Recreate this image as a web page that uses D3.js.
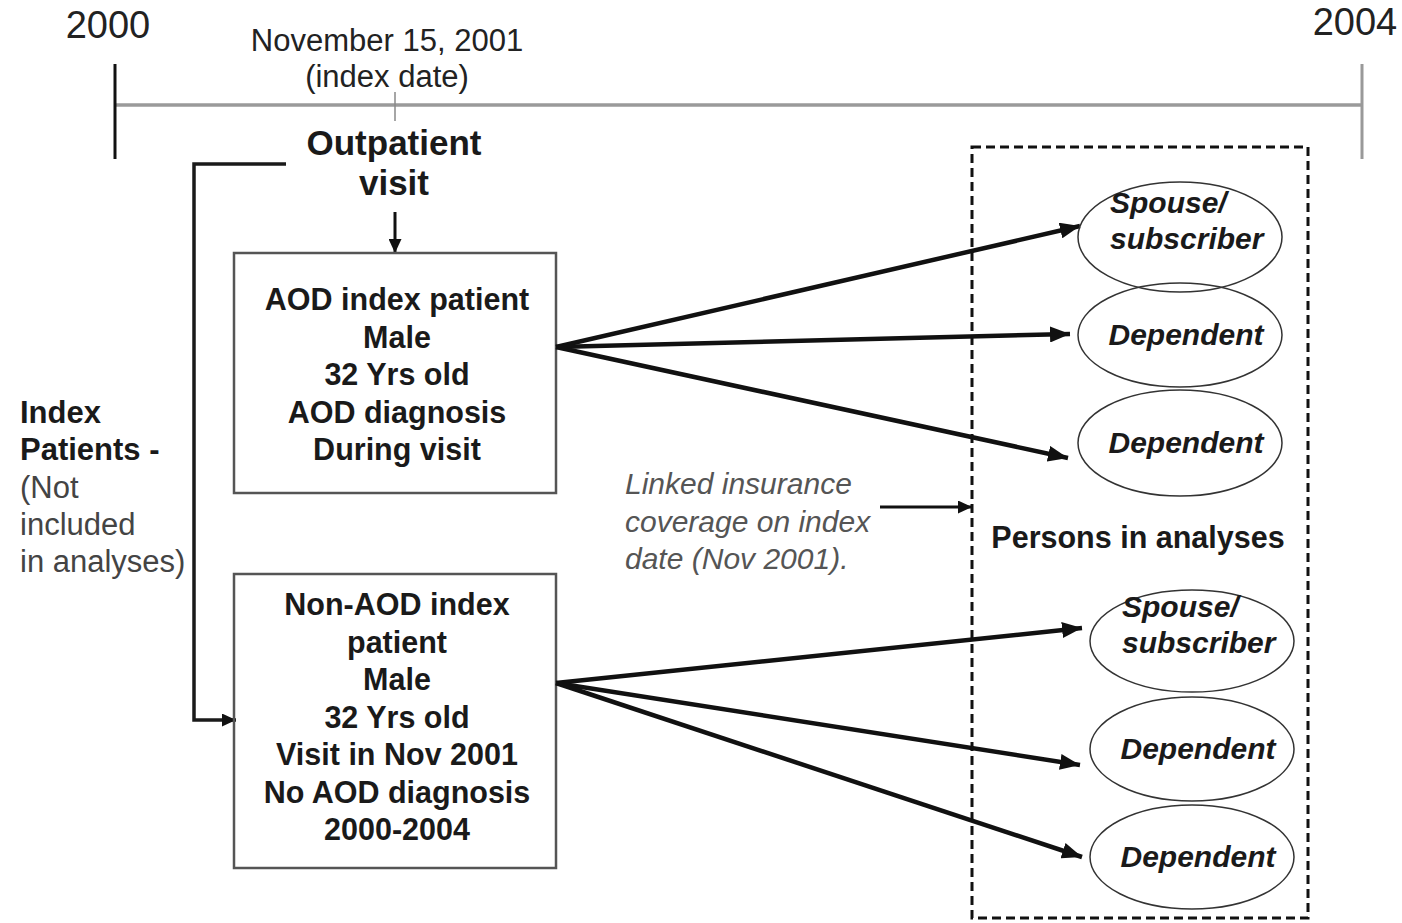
<!DOCTYPE html>
<html>
<head>
<meta charset="utf-8">
<script src="https://cdn.jsdelivr.net/npm/d3@7"></script>
<style>
  html, body { margin: 0; padding: 0; background: #fff; }
  svg { display: block; }
  text { font-family: "Liberation Sans", Arial, Helvetica, sans-serif; }
</style>
</head>
<body>
<svg id="chart" width="1402" height="923"></svg>
<script>
// ---------- content ----------
const timelineYears = ["2000", "2004"];
const indexDateLabel = ["November 15, 2001", "(index date)"];
const visitLabel = ["Outpatient", "visit"];
const aodBoxLines = ["AOD index patient", "Male", "32 Yrs old", "AOD diagnosis", "During visit"];
const nonAodBoxLines = ["Non-AOD index", "patient", "Male", "32 Yrs old", "Visit in Nov 2001", "No AOD diagnosis", "2000-2004"];
const indexPatientLines = ["Index", "Patients -", "(Not", "included", "in analyses)"];
const indexPatientBold = [true, true, false, false, false];
const linkedLines = ["Linked insurance", "coverage on index", "date (Nov 2001)."];
const personsLabel = "Persons in analyses";
const familyRoles = [["Spouse/", "subscriber"], ["Dependent"], ["Dependent"]];

// ---------- layout ----------
const svg = d3.select("#chart");

const tScale = d3.scaleLinear().domain([0, 1]).range([115, 1362]);
const lineY = 105;
const indexX = 395;

const defs = svg.append("defs");
function marker(id, len, wid) {
  defs.append("marker")
    .attr("id", id)
    .attr("markerUnits", "userSpaceOnUse")
    .attr("viewBox", `0 0 ${len} ${wid}`)
    .attr("refX", len).attr("refY", wid / 2)
    .attr("markerWidth", len).attr("markerHeight", wid)
    .attr("orient", "auto")
    .append("path")
    .attr("d", `M0,0 L${len},${wid / 2} L0,${wid} Z`)
    .attr("fill", "#111");
}
marker("head", 20, 16);
marker("headSmall", 14, 13);

// horizontal timeline
svg.append("line")
  .attr("x1", tScale(0)).attr("x2", tScale(1))
  .attr("y1", lineY).attr("y2", lineY)
  .attr("stroke", "#9a9a9a").attr("stroke-width", 3.5);
svg.append("line").attr("x1", tScale(0)).attr("x2", tScale(0)).attr("y1", 64).attr("y2", 159)
  .attr("stroke", "#111").attr("stroke-width", 3);
svg.append("line").attr("x1", tScale(1)).attr("x2", tScale(1)).attr("y1", 64).attr("y2", 159)
  .attr("stroke", "#999").attr("stroke-width", 3);
svg.append("line").attr("x1", indexX).attr("x2", indexX).attr("y1", 92).attr("y2", 121)
  .attr("stroke", "#888").attr("stroke-width", 1.5);

// year labels
svg.selectAll("text.year").data(timelineYears).join("text")
  .attr("class", "year")
  .attr("x", (d, i) => i === 0 ? 108 : 1355)
  .attr("y", (d, i) => i === 0 ? 38 : 35)
  .attr("text-anchor", "middle")
  .attr("font-size", 38)
  .attr("fill", "#222")
  .text(d => d);

// index date label
svg.selectAll("text.idx").data(indexDateLabel).join("text")
  .attr("class", "idx")
  .attr("x", 387).attr("y", (d, i) => 51 + i * 36)
  .attr("text-anchor", "middle")
  .attr("font-size", 31)
  .attr("fill", "#222")
  .text(d => d);

// outpatient visit
svg.selectAll("text.visit").data(visitLabel).join("text")
  .attr("class", "visit")
  .attr("x", 394).attr("y", (d, i) => 155 + i * 40)
  .attr("text-anchor", "middle")
  .attr("font-size", 35).attr("font-weight", "bold")
  .attr("fill", "#1a1a1a")
  .text(d => d);

// down arrow to AOD box
svg.append("line").attr("x1", indexX).attr("x2", indexX).attr("y1", 212).attr("y2", 253)
  .attr("stroke", "#111").attr("stroke-width", 3).attr("marker-end", "url(#headSmall)");

// bracket from Outpatient to Non-AOD box
svg.append("path")
  .attr("d", "M286,164 H194 V720 H236")
  .attr("fill", "none").attr("stroke", "#1a1a1a").attr("stroke-width", 3.5)
  .attr("marker-end", "url(#headSmall)");

// boxes
const boxes = [
  { x: 234, y: 253, w: 322, h: 240, lines: aodBoxLines, y0: 310 },
  { x: 234, y: 574, w: 322, h: 294, lines: nonAodBoxLines, y0: 615 }
];
const lineStep = 37.5;
boxes.forEach(b => {
  svg.append("rect")
    .attr("x", b.x).attr("y", b.y).attr("width", b.w).attr("height", b.h)
    .attr("fill", "none").attr("stroke", "#555").attr("stroke-width", 2.5);
  svg.append("g").selectAll("text").data(b.lines).join("text")
    .attr("x", b.x + b.w / 2 + 2)
    .attr("y", (d, i) => b.y0 + i * lineStep)
    .attr("text-anchor", "middle")
    .attr("font-size", 30.5).attr("font-weight", "bold")
    .attr("fill", "#1a1a1a")
    .text(d => d);
});

// index patients side label
svg.append("g").selectAll("text").data(indexPatientLines).join("text")
  .attr("x", 20)
  .attr("y", (d, i) => 423 + i * 37.3)
  .attr("font-size", 31)
  .attr("font-weight", (d, i) => indexPatientBold[i] ? "bold" : "normal")
  .attr("fill", (d, i) => indexPatientBold[i] ? "#1a1a1a" : "#444")
  .text(d => d);

// dashed box
svg.append("rect")
  .attr("x", 972).attr("y", 147).attr("width", 336).attr("height", 771)
  .attr("fill", "none").attr("stroke", "#111").attr("stroke-width", 3)
  .attr("stroke-dasharray", "9,5");

// persons in analyses
svg.append("text")
  .attr("x", 1138).attr("y", 548)
  .attr("text-anchor", "middle")
  .attr("font-size", 30.5).attr("font-weight", "bold")
  .attr("fill", "#1a1a1a")
  .text(personsLabel);

// linked insurance
svg.append("g").selectAll("text").data(linkedLines).join("text")
  .attr("x", 625)
  .attr("y", (d, i) => 494 + i * 37.5)
  .attr("font-size", 30).attr("font-style", "italic")
  .attr("fill", "#555")
  .text(d => d);
svg.append("line").attr("x1", 880).attr("x2", 972).attr("y1", 507).attr("y2", 507)
  .attr("stroke", "#111").attr("stroke-width", 3).attr("marker-end", "url(#headSmall)");

// family groups
const groups = [
  { src: [556, 347], cx: 1180, cys: [237, 335, 443], rys: [55, 52, 53],
    targets: [[1080, 226], [1070, 334], [1068, 458]] },
  { src: [556, 683], cx: 1192, cys: [641, 749, 857], rys: [51, 52, 52],
    targets: [[1082, 628], [1080, 765], [1082, 857]] }
];

groups.forEach(g => {
  g.targets.forEach(t => {
    svg.append("line")
      .attr("x1", g.src[0]).attr("y1", g.src[1])
      .attr("x2", t[0]).attr("y2", t[1])
      .attr("stroke", "#111").attr("stroke-width", 4.5)
      .attr("marker-end", "url(#head)");
  });
  familyRoles.forEach((role, i) => {
    svg.append("ellipse")
      .attr("cx", g.cx).attr("cy", g.cys[i])
      .attr("rx", 102).attr("ry", g.rys[i])
      .attr("fill", "none").attr("stroke", "#333").attr("stroke-width", 1.5);
    const multi = role.length > 1;
    svg.append("g").selectAll("text").data(role).join("text")
      .attr("x", multi ? g.cx - 70 : g.cx + 6)
      .attr("y", (d, j) => multi ? g.cys[i] - 24 + j * 36 : g.cys[i] + 10)
      .attr("text-anchor", multi ? "start" : "middle")
      .attr("font-size", 30).attr("font-weight", "bold").attr("font-style", "italic")
      .attr("fill", "#1a1a1a")
      .text(d => d);
  });
});
</script>
</body>
</html>
